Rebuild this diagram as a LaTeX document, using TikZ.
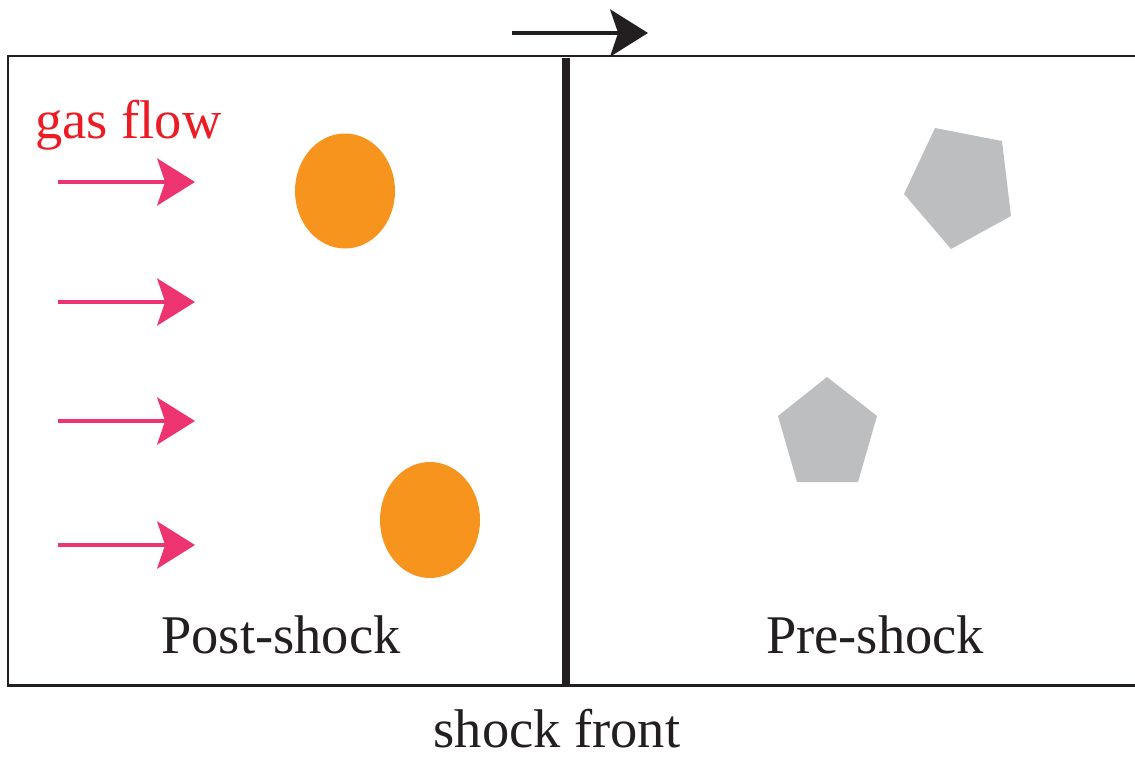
\documentclass[tikz,border=0pt]{standalone}
\usepackage{fontspec}
\setmainfont{Liberation Serif}
\usetikzlibrary{arrows.meta}
\definecolor{flowpink}{RGB}{238,52,112}
\definecolor{flowred}{RGB}{237,28,36}
\definecolor{grainorange}{RGB}{247,148,29}
\definecolor{graingray}{RGB}{188,190,192}
\definecolor{inkblack}{RGB}{35,31,32}
\tikzset{
    bigtip/.style={-{Stealth[length=21.5pt,width=26.7pt,inset=4.5pt]}},
    label/.style={anchor=base,inner sep=0pt,font=\fontsize{31}{37}\selectfont},
}

\begin{document}
\begin{tikzpicture}[x=0.02cm,y=-0.02cm]
            \useasboundingbox (0,0) rectangle (1135,757);
            % box and shock front
            \draw[inkblack,line width=1.7pt] (1135,56) -- (8,56) -- (8,685) -- (1135,685);
            \draw[inkblack,line width=4.5pt] (566,58) -- (566,685);
            \coordinate (mstart) at (512,33);
            \coordinate (mend) at (648,33);
            \draw[inkblack,line width=2.8pt,bigtip] (mstart) -- (mend);
            % gas flow
            \node[label,anchor=base west,text=flowred] (gasflow) at (35,138) {gas flow};
            \foreach \y [count=\i] in {182,302,421,545} {
                \coordinate (f\i a) at (58,\y);
                \coordinate (f\i b) at (195,\y);
                \draw[flowpink,line width=2.6pt,bigtip] (f\i a) -- (f\i b);
            }
            % grains
            \fill[grainorange] (345,191) ellipse[x radius=50,y radius=57.5];
            \fill[grainorange] (430,520) ellipse[x radius=50,y radius=58];
            \fill[graingray] (935,128) -- (1002,141) -- (1011,216) -- (951,249) -- (904,194) -- cycle;
            \fill[graingray] (827,377) -- (877,416) -- (858,482) -- (797,482) -- (778,416) -- cycle;
            % labels
            \node[label,text=inkblack] (post) at (281,653) {Post-shock};
            \node[label,text=inkblack] (pre) at (875,653) {Pre-shock};
            \node[label,text=inkblack] (front) at (557,747) {shock front};
        \end{tikzpicture}
\end{document}
